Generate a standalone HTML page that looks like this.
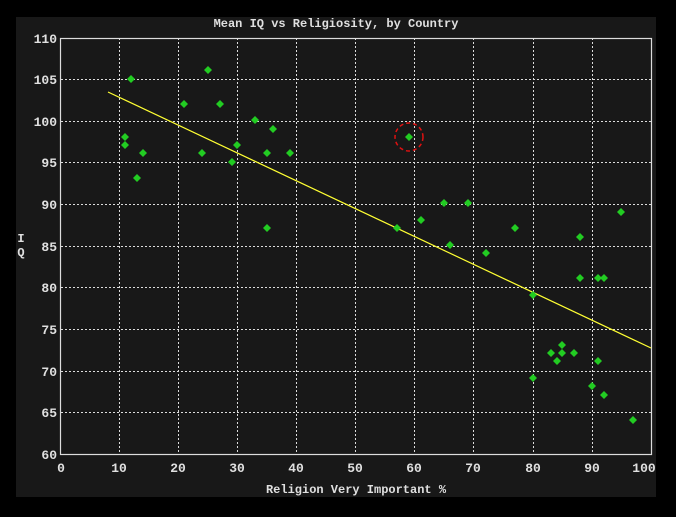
<!DOCTYPE html>
<html><head><style>
body{margin:0;background:#000;}
text{font-family:"Liberation Mono",monospace;fill:#e0e0e0;font-weight:bold;}
</style></head><body>
<svg width="676" height="512" xmlns="http://www.w3.org/2000/svg">
<rect width="676" height="512" fill="#000"/>
<rect x="16" y="17" width="640" height="480" fill="#181818"/>
<g stroke="#ddd" stroke-width="1" stroke-dasharray="2,2">
<line x1="119.5" y1="38" x2="119.5" y2="454"/><line x1="178.5" y1="38" x2="178.5" y2="454"/>
<line x1="237.5" y1="38" x2="237.5" y2="454"/><line x1="296.5" y1="38" x2="296.5" y2="454"/>
<line x1="355.5" y1="38" x2="355.5" y2="454"/><line x1="414.5" y1="38" x2="414.5" y2="454"/>
<line x1="473.5" y1="38" x2="473.5" y2="454"/><line x1="533.5" y1="38" x2="533.5" y2="454"/>
<line x1="592.5" y1="38" x2="592.5" y2="454"/>
<line x1="61" y1="79.5" x2="651" y2="79.5"/><line x1="61" y1="121.5" x2="651" y2="121.5"/>
<line x1="61" y1="162.5" x2="651" y2="162.5"/><line x1="61" y1="204.5" x2="651" y2="204.5"/>
<line x1="61" y1="246.5" x2="651" y2="246.5"/><line x1="61" y1="287.5" x2="651" y2="287.5"/>
<line x1="61" y1="329.5" x2="651" y2="329.5"/><line x1="61" y1="371.5" x2="651" y2="371.5"/>
<line x1="61" y1="412.5" x2="651" y2="412.5"/>
</g>
<rect x="60.5" y="38.5" width="591" height="416" fill="none" stroke="#ddd" stroke-width="1.2"/>
<line x1="108" y1="92" x2="651" y2="348" stroke="#ffff33" stroke-width="1.2"/>
<g fill="#22cc22" id="pts">
<path d="M131 75l4 4-4 4-4-4z"/><path d="M208 66l4 4-4 4-4-4z"/><path d="M184 100l4 4-4 4-4-4z"/><path d="M220 100l4 4-4 4-4-4z"/><path d="M255 116l4 4-4 4-4-4z"/><path d="M125 133l4 4-4 4-4-4z"/><path d="M125 141l4 4-4 4-4-4z"/><path d="M143 149l4 4-4 4-4-4z"/><path d="M202 149l4 4-4 4-4-4z"/><path d="M237 141l4 4-4 4-4-4z"/><path d="M232 158l4 4-4 4-4-4z"/><path d="M273 125l4 4-4 4-4-4z"/><path d="M267 149l4 4-4 4-4-4z"/><path d="M290 149l4 4-4 4-4-4z"/><path d="M137 174l4 4-4 4-4-4z"/><path d="M267 224l4 4-4 4-4-4z"/><path d="M409 133l4 4-4 4-4-4z"/><path d="M444 199l4 4-4 4-4-4z"/><path d="M468 199l4 4-4 4-4-4z"/><path d="M421 216l4 4-4 4-4-4z"/><path d="M450 241l4 4-4 4-4-4z"/><path d="M397 224l4 4-4 4-4-4z"/><path d="M486 249l4 4-4 4-4-4z"/><path d="M515 224l4 4-4 4-4-4z"/><path d="M580 233l4 4-4 4-4-4z"/><path d="M621 208l4 4-4 4-4-4z"/><path d="M533 291l4 4-4 4-4-4z"/><path d="M580 274l4 4-4 4-4-4z"/><path d="M598 274l4 4-4 4-4-4z"/><path d="M604 274l4 4-4 4-4-4z"/><path d="M533 374l4 4-4 4-4-4z"/><path d="M551 349l4 4-4 4-4-4z"/><path d="M557 357l4 4-4 4-4-4z"/><path d="M562 341l4 4-4 4-4-4z"/><path d="M562 349l4 4-4 4-4-4z"/><path d="M574 349l4 4-4 4-4-4z"/><path d="M592 382l4 4-4 4-4-4z"/><path d="M598 357l4 4-4 4-4-4z"/><path d="M604 391l4 4-4 4-4-4z"/><path d="M633 416l4 4-4 4-4-4z"/>
</g>
<circle cx="409" cy="137" r="14" fill="none" stroke="#dd1111" stroke-width="1.5" stroke-dasharray="4,3"/>
<g font-size="13" text-anchor="end">
<text x="57" y="43">110</text><text x="57" y="84">105</text><text x="57" y="126">100</text>
<text x="57" y="167">95</text><text x="57" y="209">90</text><text x="57" y="251">85</text>
<text x="57" y="292">80</text><text x="57" y="334">75</text><text x="57" y="376">70</text>
<text x="57" y="417">65</text><text x="57" y="459">60</text>
</g>
<g font-size="13" text-anchor="middle">
<text x="61" y="472">0</text><text x="119" y="472">10</text><text x="178" y="472">20</text>
<text x="237" y="472">30</text><text x="296" y="472">40</text><text x="355" y="472">50</text>
<text x="414" y="472">60</text><text x="473" y="472">70</text><text x="533" y="472">80</text>
<text x="592" y="472">90</text><text x="644" y="472">100</text>
<text x="336" y="27" font-size="12">Mean IQ vs Religiosity, by Country</text>
<text x="356" y="493" font-size="12">Religion Very Important %</text>
<text x="21" y="242" font-size="12">I</text><text x="21" y="256" font-size="12">Q</text>
</g>
</svg>
</body></html>
